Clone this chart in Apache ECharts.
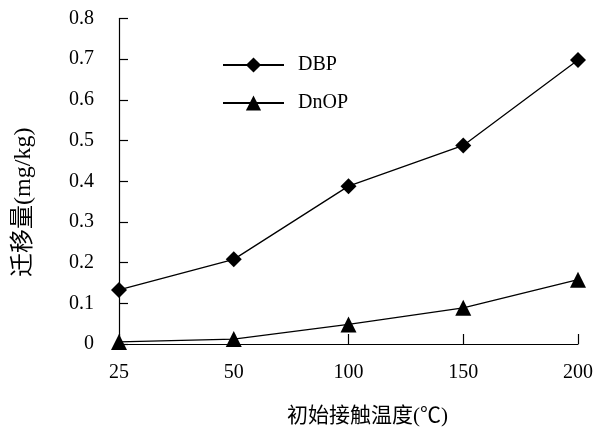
<!DOCTYPE html>
<html>
<head>
<meta charset="utf-8">
<script src="https://cdn.jsdelivr.net/npm/echarts@6/dist/echarts.min.js"></script>
<style>
html,body{margin:0;padding:0;background:#fff;}
#chart{width:609px;height:427px;}
</style>
</head>
<body>
<div id="chart"></div>
<script>
const categories = ['25', '50', '100', '150', '200'];
const dbp = [0.133, 0.208, 0.388, 0.488, 0.698];
const dnop = [0.005, 0.012, 0.048, 0.089, 0.158];
const yTicks = { min: 0, max: 0.8, interval: 0.1 };
const xName = '初始接触温度(℃)';
const yName = '迁移量(mg/kg)';
const seriesNames = ['DBP', 'DnOP'];

const FONT = '"Liberation Serif", "Noto Sans CJK SC", serif';
const chart = echarts.init(document.getElementById('chart'));
chart.setOption({
  animation: false,
  backgroundColor: '#fff',
  grid: { left: 119, right: 31, top: 18.5, bottom: 83, containLabel: false, outerBoundsMode: 'none' },
  legend: {
    orient: 'vertical',
    left: 217, top: 50,
    itemWidth: 61, itemHeight: 19, itemGap: 18,
    textStyle: { fontFamily: FONT, fontSize: 20, color: '#000', padding: [0, 0, 0, 9] },
    data: seriesNames
  },
  xAxis: {
    type: 'category',
    data: categories,
    boundaryGap: false,
    name: xName,
    nameLocation: 'middle',
    nameGap: 62,
    nameTextStyle: { fontFamily: FONT, fontSize: 21, color: '#000', padding: [0, 0, 0, 38] },
    axisLine: { lineStyle: { color: '#000', width: 1.2 } },
    axisTick: { inside: true, length: 10, alignWithLabel: true, lineStyle: { color: '#000', width: 1.2 } },
    axisLabel: { margin: 19, fontFamily: FONT, fontSize: 20, color: '#000' },
    splitLine: { show: false }
  },
  yAxis: {
    type: 'value',
    min: yTicks.min, max: yTicks.max, interval: yTicks.interval,
    name: yName,
    nameLocation: 'middle',
    nameGap: 83,
    nameRotate: 90,
    nameTextStyle: { fontFamily: FONT, fontSize: 24, color: '#000', padding: [0, 42, 0, 0] },
    axisLine: { show: true, lineStyle: { color: '#000', width: 1.2 } },
    axisTick: { show: true, inside: true, length: 9, lineStyle: { color: '#000', width: 1.2 } },
    axisLabel: { margin: 25, fontFamily: FONT, fontSize: 20, color: '#000',
      formatter: v => (v === 0 ? '0' : v.toFixed(1)) },
    splitLine: { show: false }
  },
  series: [
    {
      name: seriesNames[0], type: 'line', data: dbp,
      symbol: 'diamond', symbolSize: 16,
      lineStyle: { color: '#000', width: 1.3 },
      itemStyle: { color: '#000' }
    },
    {
      name: seriesNames[1], type: 'line', data: dnop,
      symbol: 'triangle', symbolSize: 16,
      lineStyle: { color: '#000', width: 1.3 },
      itemStyle: { color: '#000' }
    }
  ]
});
</script>
</body>
</html>
